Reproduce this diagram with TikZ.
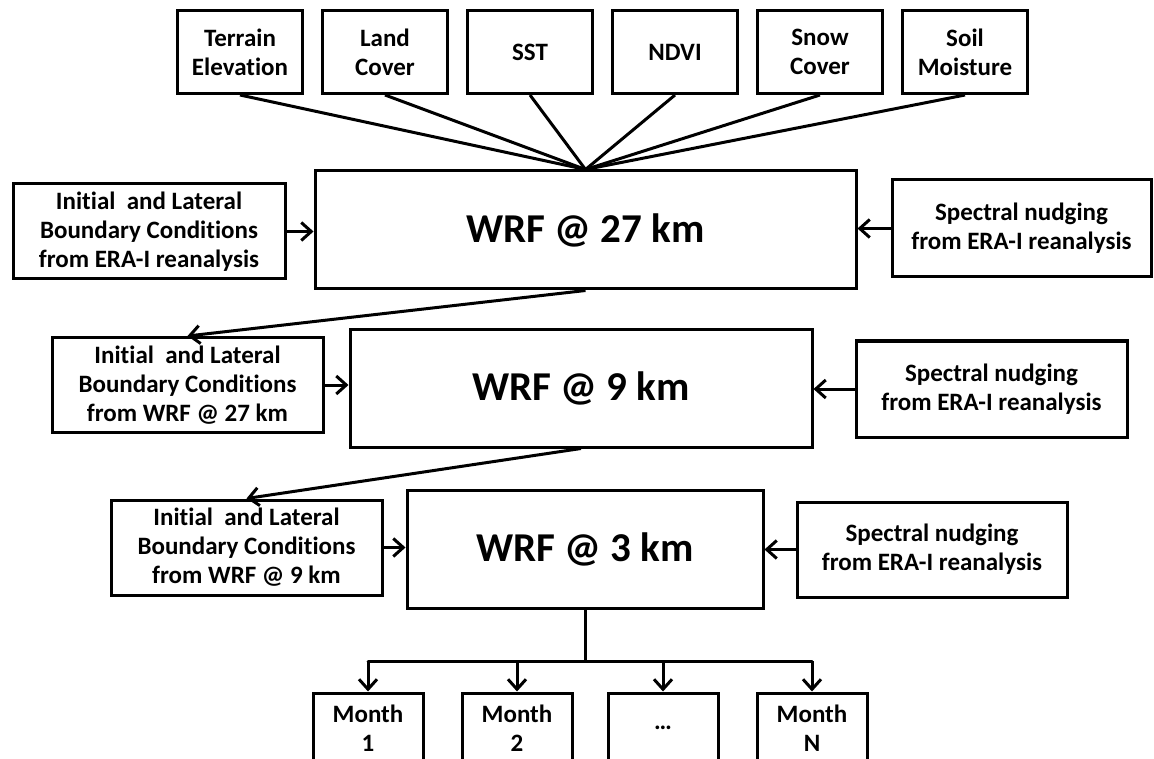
\documentclass[tikz,border=0pt]{standalone}
\usepackage{fontspec}
\setmainfont{Carlito}[Ligatures=NoCommon]
\usetikzlibrary{arrows.meta}

\begin{document}
\begin{tikzpicture}[x=1pt, y=-1pt, node distance={145pt},
        box/.style = {draw, line width=3pt, align=center, inner sep=0pt, font=\fontsize{25}{29}\selectfont\bfseries},
        data/.style = {box, minimum width=125pt, minimum height=83pt},
        bc/.style = {box, minimum width=271pt, minimum height=95pt},
        wrf/.style = {box, minimum height=118pt, font=\fontsize{41}{48}\selectfont\bfseries},
        month/.style = {box, minimum width=110pt, minimum height=70pt},
        link/.style = {line width=3pt},
        feed/.style = {line width=3pt, -{Straight Barb[length=10pt, width=18pt, line width=3pt]}}]
    \clip (0,0) rectangle (1154,759);

    % static input fields
    \node[data] (terrain) at (240,52) {Terrain\\Elevation};
    \node[data] (land) [right of=terrain] {Land\\Cover};
    \node[data] (sst) [right of=land] {SST};
    \node[data] (ndvi) [right of=sst] {NDVI};
    \node[data] (snow) [right of=ndvi] {Snow\\Cover};
    \node[data] (soil) [right of=snow] {Soil\\Moisture};

    % nested domains
    \node[wrf, minimum width=541pt] (wrf27) at (585.5,230) {WRF @ 27 km};
    \node[wrf, minimum width=462pt, minimum height=117pt] (wrf9) at (581,388.5) {WRF @ 9 km};
    \node[wrf, minimum width=356pt] (wrf3) at (585,549) {WRF @ 3 km};

    \node[bc, minimum width=272pt] (bc27) at (149,231.5) {Initial~ and Lateral\\Boundary Conditions\\from ERA-I reanalysis};
    \node[bc] (bc9) at (187.5,385) {Initial~ and Lateral\\Boundary Conditions\\from WRF @ 27 km};
    \node[bc] (bc3) at (246.5,547.5) {Initial~ and Lateral\\Boundary Conditions\\from WRF @ 9 km};

    \node[bc, minimum width=259pt, minimum height=97pt] (sn27) at (1021.5,228.5) {Spectral nudging\\from ERA-I reanalysis};
    \node[bc, minimum height=96pt] (sn9) at (991.5,389) {Spectral nudging\\from ERA-I reanalysis};
    \node[bc, minimum width=270pt] (sn3) at (932,549.5) {Spectral nudging\\from ERA-I reanalysis};

    % monthly runs
    \node[month] (m1) at (368,728) {Month\\1};
    \node[month] (m2) at (517,728) {Month\\2};
    \node[month] (mdots) at (663,728) {…};
    \node[month] (mN) at (812,728) {Month\\N};
    \coordinate (fork) at (585,661);

    \foreach \src in {terrain, land, sst, ndvi, snow, soil}
        \draw[link] (\src.south) -- (wrf27.north);

    \draw[feed] (bc27.east) -- (bc27.east -| wrf27.west);
    \draw[feed] (sn27.west) -- (sn27.west -| wrf27.east);
    \draw[feed] (wrf27.south) -- (bc9.north);
    \draw[feed] (bc9.east) -- (bc9.east -| wrf9.west);
    \draw[feed] (sn9.west) -- (sn9.west -| wrf9.east);
    \draw[feed] (wrf9.south) -- (bc3.north);
    \draw[feed] (bc3.east) -- (bc3.east -| wrf3.west);
    \draw[feed] (sn3.west) -- (sn3.west -| wrf3.east);

    \draw[link] (wrf3.south) -- (fork);
    \draw[link, line cap=round] (fork -| m1) -- (fork -| mN);
    \foreach \run in {m1, m2, mdots, mN}
        \draw[feed] (fork -| \run) -- (\run.north);
\end{tikzpicture}
\end{document}
